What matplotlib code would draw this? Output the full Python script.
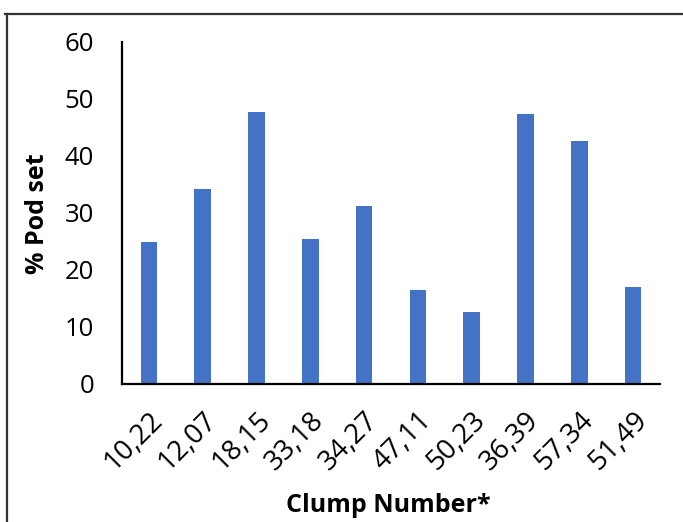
import matplotlib.pyplot as plt
from matplotlib.lines import Line2D
import numpy as np

plt.rcParams['font.family'] = ['Open Sans', 'DejaVu Sans']

clumps = ['10,22', '12,07', '18,15', '33,18', '34,27',
          '47,11', '50,23', '36,39', '57,34', '51,49']
pod_set = [24.9, 34.2, 47.7, 25.5, 31.3, 16.4, 12.6, 47.4, 42.7, 17.1]
y_ticks = [0, 10, 20, 30, 40, 50, 60]

fig = plt.figure(figsize=(6.83, 5.22), dpi=100)
ax = fig.add_axes([0.1786, 0.2644, 0.7877, 0.6552])

x = np.arange(len(clumps))
ax.bar(x, pod_set, width=0.31, color='#4472C4', zorder=2)

ax.set_xlim(-0.5, len(clumps) - 0.5)
ax.set_ylim(0, 60)
ax.set_yticks(y_ticks)
ax.set_xticks(x)
ax.set_xticklabels(clumps, rotation=45, ha='right', va='top',
                   rotation_mode='anchor', fontsize=20)
ax.tick_params(axis='y', labelsize=18.5, length=0, pad=20)
ax.tick_params(axis='x', length=0, pad=16)

# Hide top/right spines
ax.spines['top'].set_visible(False)
ax.spines['right'].set_visible(False)
ax.spines['left'].set_linewidth(1.6)
ax.spines['bottom'].set_linewidth(1.6)

fig.text(37 / 683, 1 - 214 / 522, '% Pod set', fontsize=18, fontweight='bold',
         rotation=90, ha='center', va='center')
fig.text(388 / 683, 1 - 505 / 522, 'Clump Number*', fontsize=18,
         fontweight='bold', ha='center', va='center')

# Outer frame (top and left edges only)
fig.add_artist(Line2D([5 / 683, 1], [1 - 14 / 522, 1 - 14 / 522],
                      transform=fig.transFigure, color='#333333', lw=1.6))
fig.add_artist(Line2D([7 / 683, 7 / 683], [0, 1 - 14 / 522],
                      transform=fig.transFigure, color='#333333', lw=1.6))

fig.savefig('out.png', dpi=100)
